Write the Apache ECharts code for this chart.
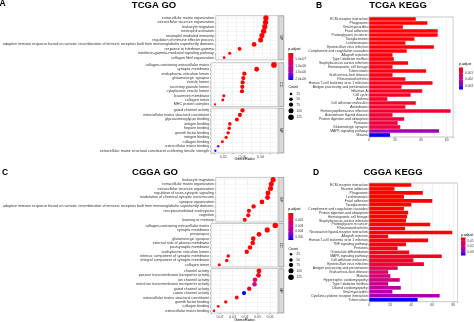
<!DOCTYPE html>
<html><head><meta charset="utf-8">
<script src="https://cdn.jsdelivr.net/npm/echarts@6/dist/echarts.min.js"></script>
<style>html,body{margin:0;padding:0;background:#fff}#c{width:474px;height:322px}</style>
</head><body><div id="c"></div>
<script>
// ---------------- DATA ----------------
const tcgaBPNames = ['extracellular matrix organization','extracellular structure organization','leukocyte migration','neutrophil activation','neutrophil mediated immunity','regulation of immune effector process','adaptive immune response based on somatic recombination of immune receptors built from immunoglobulin superfamily domains','response to interferon-gamma','interferon-gamma-mediated signaling pathway','collagen fibril organization'];
const tcgaBPRatio = [0.0646,0.0642,0.0633,0.0620,0.0600,0.0585,0.0510,0.0343,0.0229,0.0165];
const tcgaBPCount = [113,112,111,109,105,102,89,60,40,29];
const tcgaBPPadj  = [6.0e-08,6.1e-08,6.2e-08,6.5e-08,6.8e-08,7.0e-08,7.5e-08,8.0e-08,9.0e-08,1.1e-07];

const tcgaCCNames = ['collagen-containing extracellular matrix','synaptic membrane','endoplasmic reticulum lumen','glutamatergic synapse','vesicle lumen','secretory granule lumen','cytoplasmic vesicle lumen','basement membrane','collagen trimer','MHC protein complex'];
const tcgaCCRatio = [0.0742,0.0557,0.0425,0.0414,0.0407,0.0403,0.0400,0.0205,0.0194,0.0111];
const tcgaCCCount = [130,97,74,72,71,71,70,36,34,19];
const tcgaCCPadj  = [6.0e-08,6.2e-08,6.5e-08,6.8e-08,7.0e-08,7.2e-08,7.5e-08,8.0e-08,9.0e-08,1.2e-07];

const tcgaMFNames = ['gated channel activity','extracellular matrix structural constituent','glycosaminoglycan binding','antigen binding','heparin binding','growth factor binding','integrin binding','collagen binding','extracellular matrix binding','extracellular matrix structural constituent conferring tensile strength'];
const tcgaMFRatio = [0.0405,0.0378,0.0345,0.0270,0.0263,0.0252,0.0230,0.0190,0.0145,0.0115];
const tcgaMFCount = [75,70,65,50,49,47,43,35,27,21];
const tcgaMFPadj  = [6.3e-08,6.5e-08,7.0e-08,8.0e-08,8.5e-08,9.0e-08,1.0e-07,1.5e-07,1.56e-06,2.06e-06];

const cggaBPNames = ['leukocyte migration','extracellular matrix organization','extracellular structure organization','regulation of trans-synaptic signaling','modulation of chemical synaptic transmission','synapse organization','adaptive immune response based on somatic recombination of immune receptors built from immunoglobulin superfamily domains','receptor-mediated endocytosis','cognition','learning or memory'];
const cggaBPRatio = [0.0622,0.0606,0.0600,0.0578,0.0574,0.0526,0.0454,0.0414,0.0408,0.0378];
const cggaBPCount = [106,103,102,98,97,89,77,70,69,64];
const cggaBPPadj  = [0.00078,0.00079,0.00080,0.00081,0.00082,0.00083,0.00085,0.00088,0.00090,0.00095];

const cggaCCNames = ['collagen-containing extracellular matrix','synaptic membrane','presynapse','glutamatergic synapse','external side of plasma membrane','postsynaptic membrane','endoplasmic reticulum lumen','intrinsic component of synaptic membrane','integral component of synaptic membrane','collagen trimer'];
const cggaCCRatio = [0.0642,0.0578,0.0512,0.0466,0.0462,0.0440,0.0414,0.0266,0.0254,0.0194];
const cggaCCCount = [118,106,94,86,85,81,76,49,47,36];
const cggaCCPadj  = [0.00078,0.00079,0.00080,0.00081,0.00082,0.00083,0.00085,0.00088,0.00090,0.00095];

const cggaMFNames = ['channel activity','passive transmembrane transporter activity','ion channel activity','metal ion transmembrane transporter activity','gated channel activity','cation channel activity','extracellular matrix structural constituent','growth factor binding','collagen binding','extracellular matrix binding'];
const cggaMFRatio = [0.0512,0.0508,0.0480,0.0476,0.0434,0.0392,0.0334,0.0246,0.0186,0.0152];
const cggaMFCount = [92,91,86,85,78,70,60,44,33,27];
const cggaMFPadj  = [0.00092,0.00101,0.00219,0.00336,0.00125,0.00547,0.00078,0.00079,0.00080,0.00172];

const tcgaKeggNames = ['ECM-receptor interaction','Phagosome','Viral myocarditis','Focal adhesion','Proteoglycans in cancer','Toxoplasmosis','Leishmaniasis','Epstein-Barr virus infection','Complement and coagulation cascades','Allograft rejection','Type I diabetes mellitus','Staphylococcus aureus infection','Hematopoietic cell lineage','Tuberculosis','Graft-versus-host disease','Rheumatoid arthritis','Human T-cell leukemia virus 1 infection','Antigen processing and presentation','Influenza A','Cell cycle','Asthma','Cell adhesion molecules','Amoebiasis','Human papillomavirus infection','Autoimmune thyroid disease','Protein digestion and absorption','Pertussis','Glutamatergic synapse','MAPK signaling pathway','Malaria'];
const tcgaKeggCount = [36,45,26,53,53,35,28,50,29,18,19,30,18,44,18,28,49,25,41,32,14,36,28,63,18,27,22,24,54,16];
const tcgaKeggPadj  = [0.00001,0.00002,0.00003,0.00004,0.00005,0.00006,0.00008,0.0001,0.00012,0.00014,0.00016,0.00018,0.0002,0.00022,0.00025,0.00028,0.0003,0.00033,0.00036,0.0004,0.00043,0.00046,0.0005,0.00055,0.0006,0.00065,0.0007,0.00075,0.0026,0.00364];

const cggaKeggNames = ['ECM-receptor interaction','Nicotine addiction','Phagosome','Leishmaniasis','Focal adhesion','Toxoplasmosis','Complement and coagulation cascades','Protein digestion and absorption','Hematopoietic cell lineage','Staphylococcus aureus infection','Proteoglycans in cancer','Rheumatoid arthritis','Neuroactive ligand-receptor interaction','Allograft rejection','Human T-cell leukemia virus 1 infection','TNF signaling pathway','Pertussis','Osteoclast differentiation','MAPK signaling pathway','Cell adhesion molecules','Epstein-Barr virus infection','Antigen processing and presentation','Graft-versus-host disease','Malaria','Hypertrophic cardiomyopathy','Type I diabetes mellitus','Dilated cardiomyopathy','Viral myocarditis','Cytokine-cytokine receptor interaction','Tuberculosis'];
const cggaKeggCount = [40,24,51,33,60,40,33,37,36,35,58,34,79,18,56,35,27,38,69,42,52,27,18,20,29,18,30,22,67,46];
const cggaKeggPadj  = [0.0042,0.00425,0.0043,0.00435,0.0044,0.00445,0.0045,0.00455,0.0046,0.00465,0.0047,0.00475,0.0049,0.0052,0.0058,0.0063,0.0068,0.0073,0.0078,0.0084,0.0095,0.0125,0.0155,0.0180,0.0195,0.0210,0.0225,0.0240,0.0262,0.0365];

const goTicksA = [0.02,0.04,0.06];
const goTicksC = [0.02,0.03,0.04,0.05,0.06];
const keggTicks = [0,20,40,60,80];
const sizeLegendCounts = [25,50,75,100,125];
const padjLabelsA = ['5.0e-07','1.0e-06','1.5e-06','2.0e-06'];
const padjValuesA = [5e-07,1e-06,1.5e-06,2e-06];
const padjLabelsC = ['0.002','0.003','0.004','0.005'];
const padjValuesC = [0.002,0.003,0.004,0.005];
const padjLabelsB = ['0.001','0.002','0.003'];
const padjValuesB = [0.001,0.002,0.003];
const padjLabelsD = ['0.01','0.02','0.03'];
const padjValuesD = [0.01,0.02,0.03];

// ---------------- LAYOUT / STYLE ----------------
const FONT = 'Liberation Sans, Arial, Helvetica, sans-serif';
const GRAD = ['#FF0000','#E80050','#CA0089','#9A00C3','#0000FF'];
const rangeA = [6e-08, 2.06e-06], rangeC = [0.00078, 0.00547], rangeB = [0, 0.00364], rangeD = [0.0042, 0.0365];
const goX = [[0.0068,0.0785],[0.0128,0.0664]];
const GL = 211, GW = 67;
const goGrids = [[15.7,44.2],[62.7,43.9],[108.2,44.8],[177.4,44.6],[223.4,43.6],[268.7,44.3]];
const keggGrids = [[369.3,17,83.9,120,65],[369.3,183,88.2,118.7,84]];
const goSets = [
  [tcgaBPNames,tcgaBPRatio,tcgaBPCount,tcgaBPPadj,'BP'],
  [tcgaCCNames,tcgaCCRatio,tcgaCCCount,tcgaCCPadj,'CC'],
  [tcgaMFNames,tcgaMFRatio,tcgaMFCount,tcgaMFPadj,'MF'],
  [cggaBPNames,cggaBPRatio,cggaBPCount,cggaBPPadj,'BP'],
  [cggaCCNames,cggaCCRatio,cggaCCCount,cggaCCPadj,'CC'],
  [cggaMFNames,cggaMFRatio,cggaMFCount,cggaMFPadj,'MF']
];
const goSize = c => 0.5*Math.sqrt(c);
const near = (v, arr) => arr.some(t => Math.abs(t - v) < 1e-9);

const grid = [], xAxis = [], yAxis = [], series = [];
goSets.forEach((s, i) => {
  const g = goGrids[i];
  const bottom = (i % 3) === 2;
  const xr = goX[i < 3 ? 0 : 1];
  const ticks = i < 3 ? goTicksA : goTicksC;
  grid.push({left: GL, top: g[0], width: GW, height: g[1], show: true, borderColor: '#8C8C8C', borderWidth: 0.5, backgroundColor: '#fff'});
  xAxis.push({type: 'value', gridIndex: i, min: xr[0], max: xr[1], splitNumber: 6,
    axisLine: {show: false},
    axisTick: {show: bottom, length: 1.2, lineStyle: {color: '#333', width: 0.4}},
    axisLabel: {show: bottom, fontSize: 3.7, color: '#4D4D4D', margin: 1.5, fontFamily: FONT,
      formatter: v => near(v, ticks) ? v.toFixed(2) : ''},
    splitLine: {show: true, lineStyle: {color: '#E6E6E6', width: 0.5}}});
  yAxis.push({type: 'category', gridIndex: i, data: s[0], inverse: true,
    axisLine: {show: false},
    axisTick: {show: true, length: 1, alignWithLabel: true, lineStyle: {color: '#333', width: 0.4}},
    axisLabel: {interval: 0, fontSize: 3.7, color: '#333', margin: 1.8, fontFamily: FONT},
    splitLine: {show: true, alignWithLabel: true, interval: 0, lineStyle: {color: '#EDEDED', width: 0.5}}});
  series.push({type: 'scatter', xAxisIndex: i, yAxisIndex: i,
    data: s[0].map((n, k) => [s[1][k], n, s[2][k], s[3][k]]),
    symbolSize: d => goSize(d[2]), itemStyle: {opacity: 1}, silent: true});
});
const keggSets = [[tcgaKeggNames, tcgaKeggCount, tcgaKeggPadj], [cggaKeggNames, cggaKeggCount, cggaKeggPadj]];
keggSets.forEach((s, j) => {
  const g = keggGrids[j], i = 6 + j;
  grid.push({left: g[0], top: g[1], width: g[2], height: g[3], show: true, borderColor: '#8C8C8C', borderWidth: 0.5, backgroundColor: '#fff'});
  xAxis.push({type: 'value', gridIndex: i, min: 0, max: g[4], interval: 20,
    axisLine: {show: false},
    axisTick: {show: true, length: 1.2, lineStyle: {color: '#333', width: 0.4}},
    minorTick: {show: false, splitNumber: 2},
    minorSplitLine: {show: true, lineStyle: {color: '#F0F0F0', width: 0.4}},
    axisLabel: {fontSize: 3.5, color: '#4D4D4D', margin: 1.5, fontFamily: FONT,
      formatter: v => near(v, keggTicks) ? String(v) : ''},
    splitLine: {show: true, lineStyle: {color: '#E6E6E6', width: 0.5}}});
  yAxis.push({type: 'category', gridIndex: i, data: s[0], inverse: true,
    axisLine: {show: false},
    axisTick: {show: true, length: 1, alignWithLabel: true, lineStyle: {color: '#333', width: 0.4}},
    axisLabel: {interval: 0, fontSize: 3.4, color: '#333', margin: 1.6, fontFamily: FONT},
    splitLine: {show: false}});
  series.push({type: 'bar', xAxisIndex: i, yAxisIndex: i, barCategoryGap: '8%',
    data: s[0].map((n, k) => [s[1][k], n, s[2][k]]), encode: {x: 0, y: 1}, silent: true});
});

const vm = (idx, dim, r) => ({type: 'continuous', show: false, seriesIndex: idx, dimension: dim, min: r[0], max: r[1], inRange: {color: GRAD}});
const visualMap = [vm([0,1,2], 3, rangeA), vm([3,4,5], 3, rangeC), vm([6], 2, rangeB), vm([7], 2, rangeD)];

// ---------------- GRAPHICS (titles, strips, legends) ----------------
const els = [];
const txt = (t, x, y, o) => els.push(Object.assign({type: 'text', x: x, y: y, silent: true,
  style: Object.assign({text: t, x: 0, y: 0, fill: '#000', fontFamily: FONT, fontSize: 4,
    align: 'left', verticalAlign: 'middle', textAlign: 'left', textVerticalAlign: 'middle'}, o && o.style)}, o && o.el));
const center = {align: 'center', textAlign: 'center'};
txt('A', 2.5, 4, {style: Object.assign({fontSize: 8.5, fontWeight: 'bold'}, center)});
txt('TCGA GO', 154, 5.5, {style: Object.assign({fontSize: 9.5, fontWeight: 'bold'}, center)});
txt('B', 319, 5.5, {style: Object.assign({fontSize: 8.5, fontWeight: 'bold'}, center)});
txt('TCGA KEGG', 398, 5.5, {style: Object.assign({fontSize: 9.5, fontWeight: 'bold'}, center)});
txt('C', 5, 173, {style: Object.assign({fontSize: 8.5, fontWeight: 'bold'}, center)});
txt('CGGA GO', 155, 172.5, {style: Object.assign({fontSize: 9.5, fontWeight: 'bold'}, center)});
txt('D', 316, 172.7, {style: Object.assign({fontSize: 8.5, fontWeight: 'bold'}, center)});
txt('CGGA KEGG', 393, 172.7, {style: Object.assign({fontSize: 9.5, fontWeight: 'bold'}, center)});
txt('GeneRatio', GL + GW/2, 159, {style: Object.assign({fontSize: 4.2}, center)});
txt('GeneRatio', GL + GW/2, 319.8, {style: Object.assign({fontSize: 4.2}, center)});

goSets.forEach((s, i) => {
  const g = goGrids[i];
  els.push({type: 'rect', silent: true, shape: {x: GL + GW + 0.6, y: g[0], width: 5.2, height: g[1]},
    style: {fill: '#D9D9D9', stroke: '#4D4D4D', lineWidth: 0.4}});
  txt(s[4], GL + GW + 3.2, g[0] + g[1]/2, {el: {rotation: -Math.PI/2}, style: Object.assign({fontSize: 3.5, fill: '#1A1A1A'}, center)});
});

function colorbar(x, y, w, h, title, labels, values, r, titleY) {
  txt(title, x, titleY, {style: {fontSize: 3.5}});
  els.push({type: 'rect', silent: true, shape: {x: x, y: y, width: w, height: h},
    style: {fill: new echarts.graphic.LinearGradient(0, 0, 0, 1, GRAD.map((c, k) => ({offset: k/(GRAD.length-1), color: c})))}});
  labels.forEach((l, k) => {
    const yy = y + (values[k] - r[0]) / (r[1] - r[0]) * h;
    els.push({type: 'line', silent: true, shape: {x1: x, y1: yy, x2: x + 1, y2: yy}, style: {stroke: '#fff', lineWidth: 0.3}});
    els.push({type: 'line', silent: true, shape: {x1: x + w - 1, y1: yy, x2: x + w, y2: yy}, style: {stroke: '#fff', lineWidth: 0.3}});
    txt(l, x + w + 2, yy, {style: {fontSize: 3.2, fill: '#333'}});
  });
}
function sizeLegend(x, titleY, ys) {
  txt('Count', x - 2.5, titleY, {style: {fontSize: 3.5}});
  sizeLegendCounts.forEach((c, k) => {
    els.push({type: 'circle', silent: true, shape: {cx: x, cy: ys[k], r: goSize(c)/2}, style: {fill: '#000'}});
    txt(String(c), x + 5.5, ys[k], {style: {fontSize: 3.2, fill: '#333'}});
  });
}
colorbar(288.3, 53, 5, 27, 'p.adjust', padjLabelsA, padjValuesA, rangeA, 49.5);
sizeLegend(291, 87.5, [94, 99.3, 104.7, 110.7, 117.3]);
colorbar(288.3, 213, 5, 27, 'p.adjust', padjLabelsC, padjValuesC, rangeC, 209.5);
sizeLegend(291, 249, [254.3, 260, 265, 270.7, 277.3]);
colorbar(459, 67.5, 4, 22, 'p.adjust', padjLabelsB, padjValuesB, rangeB, 64.5);
colorbar(461, 237.5, 4.5, 18, 'p.adjust', padjLabelsD, padjValuesD, rangeD, 235);

const chart = echarts.init(document.getElementById('c'), null, {renderer: 'canvas'});
chart.setOption({animation: false, backgroundColor: '#fff', textStyle: {fontFamily: FONT},
  grid, xAxis, yAxis, visualMap, series, graphic: {elements: els}});
</script></body></html>
